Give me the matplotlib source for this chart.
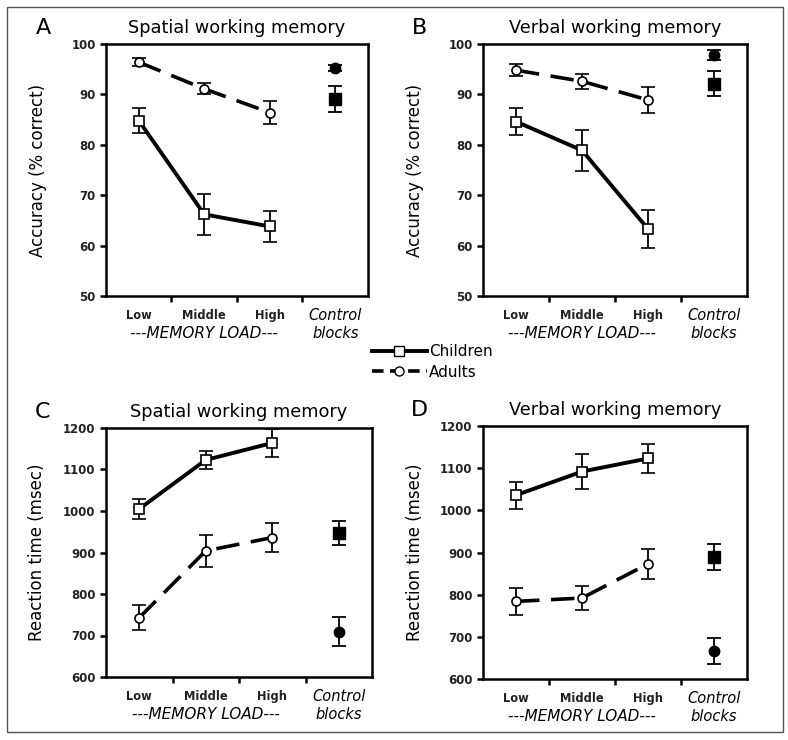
import matplotlib
matplotlib.use("Agg")
import matplotlib.pyplot as plt
from matplotlib.lines import Line2D
from matplotlib.patches import Rectangle

plt.rcParams['font.family'] = ['DejaVu Sans']

categories = ["Low", "Middle", "High"]
control_lines = ["Control", "blocks"]
load_label = "---MEMORY LOAD---"

# Panel A: spatial accuracy
A_child = [84.8, 66.2, 63.8]
A_child_err = [2.5, 4.1, 3.0]
A_adult = [96.4, 91.1, 86.4]
A_adult_err = [0.8, 1.1, 2.2]
A_ctrl_child, A_ctrl_child_err = 89.1, 2.5
A_ctrl_adult, A_ctrl_adult_err = 95.3, 0.6

# Panel B: verbal accuracy
B_child = [84.6, 78.9, 63.3]
B_child_err = [2.7, 4.0, 3.7]
B_adult = [94.8, 92.6, 88.9]
B_adult_err = [1.2, 1.5, 2.6]
B_ctrl_child, B_ctrl_child_err = 92.1, 2.5
B_ctrl_adult, B_ctrl_adult_err = 97.9, 1.0

# Panel C: spatial RT
C_child = [1005, 1123, 1164]
C_child_err = [25, 21, 33]
C_adult = [743, 904, 936]
C_adult_err = [30, 39, 34]
C_ctrl_child, C_ctrl_child_err = 946, 29
C_ctrl_adult, C_ctrl_adult_err = 709, 35

# Panel D: verbal RT
D_child = [1036, 1092, 1123]
D_child_err = [32, 41, 34]
D_adult = [784, 792, 873]
D_adult_err = [32, 28, 36]
D_ctrl_child, D_ctrl_child_err = 890, 31
D_ctrl_adult, D_ctrl_adult_err = 666, 31

fig = plt.figure(figsize=(7.88, 7.40), dpi=100)

W, H = 788, 740
PX = 0.72  # points per pixel at dpi 100

def rect(l, t, r, b):
    return [l / W, 1 - b / H, (r - l) / W, (b - t) / H]

panels = [
    ("A", "Spatial working memory", "Accuracy (% correct)", rect(106, 44, 368, 296),
     (50, 100), [50, 60, 70, 80, 90, 100],
     A_child, A_child_err, A_adult, A_adult_err,
     A_ctrl_child, A_ctrl_child_err, A_ctrl_adult, A_ctrl_adult_err),
    ("B", "Verbal working memory", "Accuracy (% correct)", rect(483, 44, 747, 296),
     (50, 100), [50, 60, 70, 80, 90, 100],
     B_child, B_child_err, B_adult, B_adult_err,
     B_ctrl_child, B_ctrl_child_err, B_ctrl_adult, B_ctrl_adult_err),
    ("C", "Spatial working memory", "Reaction time (msec)", rect(106, 428, 372, 677),
     (600, 1200), [600, 700, 800, 900, 1000, 1100, 1200],
     C_child, C_child_err, C_adult, C_adult_err,
     C_ctrl_child, C_ctrl_child_err, C_ctrl_adult, C_ctrl_adult_err),
    ("D", "Verbal working memory", "Reaction time (msec)", rect(483, 426, 747, 679),
     (600, 1200), [600, 700, 800, 900, 1000, 1100, 1200],
     D_child, D_child_err, D_adult, D_adult_err,
     D_ctrl_child, D_ctrl_child_err, D_ctrl_adult, D_ctrl_adult_err),
]

xpos = [0.5, 1.5, 2.5]
xctrl = 3.5
dash = (0, (6.5, 3.2))

for (letter, title, ylabel, r, ylim, yticks, ch, che, ad, ade,
     cc, cce, ca, cae) in panels:
    ax = fig.add_axes(r)
    ax.set_xlim(0, 4)
    ax.set_ylim(*ylim)
    ax.set_yticks(yticks)
    ax.set_xticks([1, 2, 3])
    ax.set_xticklabels([])
    for s in ax.spines.values():
        s.set_linewidth(1.8)
    ax.tick_params(axis='both', direction='out', length=4, width=1.8)
    for lab in ax.get_yticklabels():
        lab.set_fontweight('bold')
        lab.set_fontsize(8.5)
        lab.set_color('#222222')

    ebk = dict(ecolor='black', elinewidth=1.3, capsize=5, capthick=1.3)
    ax.errorbar(xpos, ad, yerr=ade, color='black', lw=2.6, ls=dash,
                marker='o', ms=6.5, mfc='white', mec='black', mew=1.2, **ebk, zorder=3)
    ax.errorbar(xpos, ch, yerr=che, color='black', lw=2.8, ls='-',
                marker='s', ms=7.5, mfc='white', mec='black', mew=1.2, **ebk, zorder=4)
    ax.errorbar([xctrl], [cc], yerr=[cce], color='black', ls='none',
                marker='s', ms=8, mfc='black', mec='black', **ebk, zorder=4)
    ax.errorbar([xctrl], [ca], yerr=[cae], color='black', ls='none',
                marker='o', ms=7.5, mfc='black', mec='black', **ebk, zorder=4)

    tr = ('data', 'axes fraction')
    for x, c in zip(xpos, categories):
        ax.annotate(c, xy=(x, 0), xycoords=tr, xytext=(0, -23 * PX), textcoords='offset points',
                    ha='center', va='baseline', fontsize=8.3, fontweight='bold', color='#222222')
    ax.annotate(control_lines[0], xy=(xctrl, 0), xycoords=tr, xytext=(0, -24 * PX),
                textcoords='offset points', ha='center', va='baseline', fontsize=10.5, style='italic')
    ax.annotate(control_lines[1], xy=(xctrl, 0), xycoords=tr, xytext=(0, -42 * PX),
                textcoords='offset points', ha='center', va='baseline', fontsize=10.5, style='italic')
    ax.annotate(load_label, xy=(1.5, 0), xycoords=tr, xytext=(0, -42 * PX),
                textcoords='offset points', ha='center', va='baseline', fontsize=11, style='italic')

    ax.set_ylabel(ylabel, fontsize=12)
    ax.yaxis.set_label_coords(-0.225, 0.5)
    ax.text(0.5, 1.065, title, transform=ax.transAxes, ha='center', va='center', fontsize=12.8)
    ax.text(-0.24, 1.065, letter, transform=ax.transAxes, ha='center', va='center', fontsize=16)

handles = [
    Line2D([], [], color='black', lw=2.8, ls='-', marker='s', ms=7, mfc='white', mec='black'),
    Line2D([], [], color='black', lw=2.6, ls=(0, (3.2, 1.8)), marker='o', ms=6.5, mfc='white', mec='black'),
]
fig.legend(handles, ["Children", "Adults"], loc='center', bbox_to_anchor=(432 / W, 1 - 362 / H),
           frameon=False, fontsize=11, handlelength=3.6, handletextpad=0.15, labelspacing=0.35)

fig.patches.append(Rectangle((7 / W, 1 - 732 / H), 776 / W, 725 / H, transform=fig.transFigure,
                             fill=False, edgecolor='#555555', lw=1.0))

fig.savefig("out.png", dpi=100)
